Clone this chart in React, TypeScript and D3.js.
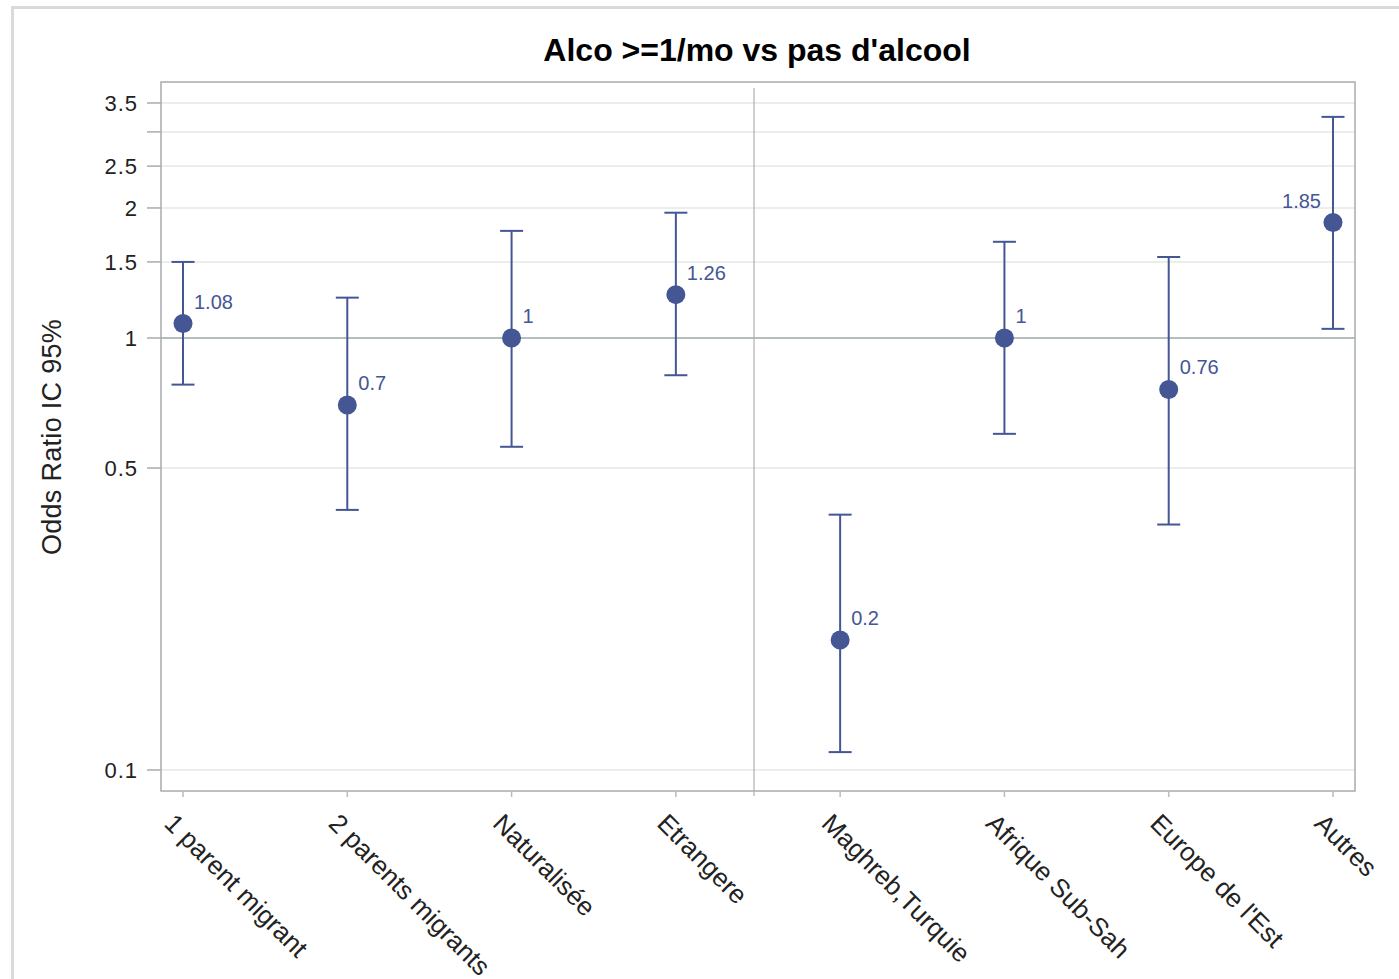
import React from "react";
import * as d3 from "d3";

const categories = [
  "1 parent migrant",
  "2 parents migrants",
  "Naturalisée",
  "Etrangere",
  "Maghreb,Turquie",
  "Afrique Sub-Sah",
  "Europe de l'Est",
  "Autres",
];
const oddsRatio = [1.08, 0.7, 1, 1.26, 0.2, 1, 0.76, 1.85];
const lowerCI = [0.78, 0.4, 0.56, 0.82, 0.11, 0.6, 0.37, 1.05];
const upperCI = [1.5, 1.24, 1.77, 1.95, 0.39, 1.67, 1.54, 3.25];
const labelLeft = [false, false, false, false, false, false, false, true];

const yTickValues = [0.1, 0.5, 1, 1.5, 2, 2.5, 3, 3.5];
const yTickLabels = ["0.1", "0.5", "1", "1.5", "2", "2.5", "", "3.5"];
const yDomain = [0.0894, 3.914];

const title = "Alco >=1/mo vs pas d'alcool";
const yAxisTitle = "Odds Ratio IC 95%";

const W = 1399;
const H = 979;
const frame = { left: 161, right: 1355, top: 82, bottom: 791 };
const BLUE = "#445694";
const FONT = "'Liberation Sans', Arial, sans-serif";

export default function App() {
  const x = d3
    .scalePoint<string>()
    .domain(categories)
    .range([frame.left, frame.right])
    .padding(0.134);
  const y = d3.scaleLog().domain(yDomain).range([frame.bottom, frame.top]);

  const divX = ((x(categories[3]) as number) + (x(categories[4]) as number)) / 2 - 4;
  const capHalf = 11.5;

  return (
    <svg
      width={W}
      height={H}
      style={{ position: "absolute", left: 0, top: 0, background: "#fff" }}
      fontFamily={FONT}
    >
      <rect x={12.5} y={7.5} width={1420} height={1000} fill="#fff" stroke="#dadada" strokeWidth={3} />
      <text x={757} y={61} textAnchor="middle" fontSize={32} fontWeight="bold" fill="#000">
        {title}
      </text>

      {/* grid lines */}
      {yTickValues.map((v, i) => (
        <line
          key={"g" + i}
          x1={frame.left}
          x2={frame.right}
          y1={y(v)}
          y2={y(v)}
          stroke="#e6e8e8"
          strokeWidth={1.5}
        />
      ))}
      {/* reference line at 1 */}
      <line x1={frame.left} x2={frame.right} y1={y(1)} y2={y(1)} stroke="#a3acac" strokeWidth={1.5} />
      {/* vertical divider */}
      <line x1={divX} x2={divX} y1={frame.top + 6} y2={frame.bottom + 5} stroke="#a0a0a0" strokeWidth={1} />

      {/* frame */}
      <rect
        x={frame.left}
        y={frame.top}
        width={frame.right - frame.left}
        height={frame.bottom - frame.top}
        fill="none"
        stroke="#a8acb0"
        strokeWidth={1.5}
      />

      {/* y ticks */}
      {yTickValues.map((v, i) => (
        <g key={"yt" + i}>
          <line x1={frame.left - 14} x2={frame.left} y1={y(v)} y2={y(v)} stroke="#a8acb0" strokeWidth={1.5} />
          <text
            x={frame.left - 23}
            y={y(v)}
            dy="0.36em"
            textAnchor="end"
            fontSize={22}
            letterSpacing={1}
            fill="#222"
          >
            {yTickLabels[i]}
          </text>
        </g>
      ))}

      {/* y axis title */}
      <text
        transform={`translate(61,${437}) rotate(-90)`}
        textAnchor="middle"
        fontSize={27}
        letterSpacing={0.3}
        fill="#222"
      >
        {yAxisTitle}
      </text>

      {/* x ticks & labels */}
      {categories.map((c, i) => {
        const cx = x(c) as number;
        return (
          <g key={"xt" + i}>
            <line x1={cx} x2={cx} y1={frame.bottom} y2={frame.bottom + 6} stroke="#b8bcc0" strokeWidth={1.5} />
            <text
              transform={`translate(${cx - 20},${825}) rotate(45)`}
              fontSize={26}
              fill="#222"
            >
              {c}
            </text>
          </g>
        );
      })}

      {/* error bars and points */}
      {categories.map((c, i) => {
        const cx = x(c) as number;
        const yl = y(lowerCI[i]);
        const yu = y(upperCI[i]);
        const yp = y(oddsRatio[i]);
        return (
          <g key={"p" + i}>
            <line x1={cx} x2={cx} y1={yu} y2={yl} stroke={BLUE} strokeWidth={2} />
            <line x1={cx - capHalf} x2={cx + capHalf} y1={yu} y2={yu} stroke={BLUE} strokeWidth={2} />
            <line x1={cx - capHalf} x2={cx + capHalf} y1={yl} y2={yl} stroke={BLUE} strokeWidth={2} />
            <circle cx={cx} cy={yp} r={9.5} fill={BLUE} />
            <text
              x={labelLeft[i] ? cx - 12 : cx + 11}
              y={yp - 15}
              textAnchor={labelLeft[i] ? "end" : "start"}
              fontSize={20}
              fill={BLUE}
            >
              {String(oddsRatio[i])}
            </text>
          </g>
        );
      })}
    </svg>
  );
}
